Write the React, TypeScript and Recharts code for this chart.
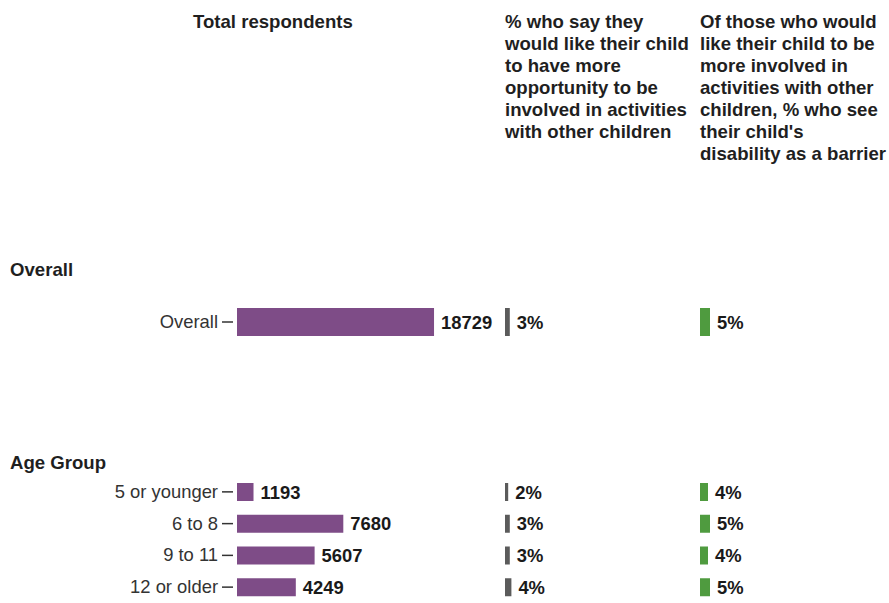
import { BarChart, Bar, XAxis, YAxis, LabelList } from "recharts";

// group: Overall
const overallCategories = ["Overall"];
const overallTotals = [18729];
const overallWantMore = [3];
const overallBarrier = [5];

// group: Age Group
const ageCategories = ["5 or younger", "6 to 8", "9 to 11", "12 or older"];
const ageTotals = [1193, 7680, 5607, 4249];
const ageWantMore = [2, 3, 3, 4];
const ageBarrier = [4, 5, 4, 5];

const PURPLE = "#7e4c87";
const GRAY = "#5b5b5b";
const GREEN = "#4f9b3f";
const FONT = "'Liberation Sans', Arial, sans-serif";

const buildRows = (cats: string[], vals: number[]) =>
  cats.map((name, i) => ({ name, value: vals[i] }));

const CategoryTick = (props: any) => {
  const { x, y, payload } = props;
  return (
    <g>
      <text
        x={x - 19}
        y={y}
        dy={6}
        textAnchor="end"
        fontSize={18.4}
        fill="#333"
        fontFamily={FONT}
      >
        {payload.value}
      </text>
      <line x1={x - 15} x2={x - 4} y1={y} y2={y} stroke="#333" strokeWidth={1.5} />
    </g>
  );
};

interface ColumnProps {
  rows: { name: string; value: number }[];
  color: string;
  max: number;
  left: number;
  top: number;
  width: number;
  height: number;
  barSize: number;
  axisWidth?: number;
  suffix?: string;
}

const Column = ({
  rows,
  color,
  max,
  left,
  top,
  width,
  height,
  barSize,
  axisWidth,
  suffix = "",
}: ColumnProps) => (
  <div style={{ position: "absolute", left, top }}>
    <BarChart
      width={width}
      height={height}
      data={rows}
      layout="vertical"
      margin={{ top: 0, right: 0, bottom: 0, left: 0 }}
    >
      <XAxis type="number" domain={[0, max]} hide />
      <YAxis
        type="category"
        dataKey="name"
        hide={!axisWidth}
        width={axisWidth || 0}
        axisLine={false}
        tickLine={false}
        tickSize={0}
        tickMargin={0}
        tick={<CategoryTick />}
        interval={0}
      />
      <Bar dataKey="value" fill={color} barSize={barSize} isAnimationActive={false}>
        <LabelList
          dataKey="value"
          position="right"
          offset={7}
          formatter={(v: any) => `${v}${suffix}`}
          style={{ fontSize: 18.4, fontWeight: 700, fill: "#1a1a1a", fontFamily: FONT }}
        />
      </Bar>
    </BarChart>
  </div>
);

const headStyle: React.CSSProperties = {
  position: "absolute",
  fontFamily: FONT,
  fontWeight: 700,
  fontSize: 18.6,
  lineHeight: "22px",
  color: "#1f1f1f",
  whiteSpace: "nowrap",
};

export default function App() {
  const overallTotalRows = buildRows(overallCategories, overallTotals);
  const overallWantRows = buildRows(overallCategories, overallWantMore);
  const overallBarrierRows = buildRows(overallCategories, overallBarrier);
  const ageTotalRows = buildRows(ageCategories, ageTotals);
  const ageWantRows = buildRows(ageCategories, ageWantMore);
  const ageBarrierRows = buildRows(ageCategories, ageBarrier);

  return (
    <div
      style={{
        position: "absolute",
        left: 0,
        top: 0,
        width: 889,
        height: 603,
        overflow: "hidden",
        background: "#fff",
      }}
    >
      <div style={{ ...headStyle, left: 193, top: 11 }}>Total respondents</div>
      <div style={{ ...headStyle, left: 505, top: 11 }}>
        % who say they
        <br />
        would like their child
        <br />
        to have more
        <br />
        opportunity to be
        <br />
        involved in activities
        <br />
        with other children
      </div>
      <div style={{ ...headStyle, left: 700, top: 11 }}>
        Of those who would
        <br />
        like their child to be
        <br />
        more involved in
        <br />
        activities with other
        <br />
        children, % who see
        <br />
        their child's
        <br />
        disability as a barrier
      </div>

      <div style={{ ...headStyle, left: 10, top: 259 }}>Overall</div>
      <Column rows={overallTotalRows} color={PURPLE} max={25000} left={0} top={302} width={500} height={40} barSize={28} axisWidth={237} />
      <Column rows={overallWantRows} color={GRAY} max={100} left={505} top={302} width={160} height={40} barSize={28} suffix="%" />
      <Column rows={overallBarrierRows} color={GREEN} max={90} left={700} top={302} width={180} height={40} barSize={28} suffix="%" />

      <div style={{ ...headStyle, left: 10, top: 452 }}>Age Group</div>
      <Column rows={ageTotalRows} color={PURPLE} max={19000} left={0} top={476} width={500} height={127} barSize={18} axisWidth={237} />
      <Column rows={ageWantRows} color={GRAY} max={100} left={505} top={476} width={160} height={127} barSize={18} suffix="%" />
      <Column rows={ageBarrierRows} color={GREEN} max={90} left={700} top={476} width={180} height={127} barSize={18} suffix="%" />
    </div>
  );
}
